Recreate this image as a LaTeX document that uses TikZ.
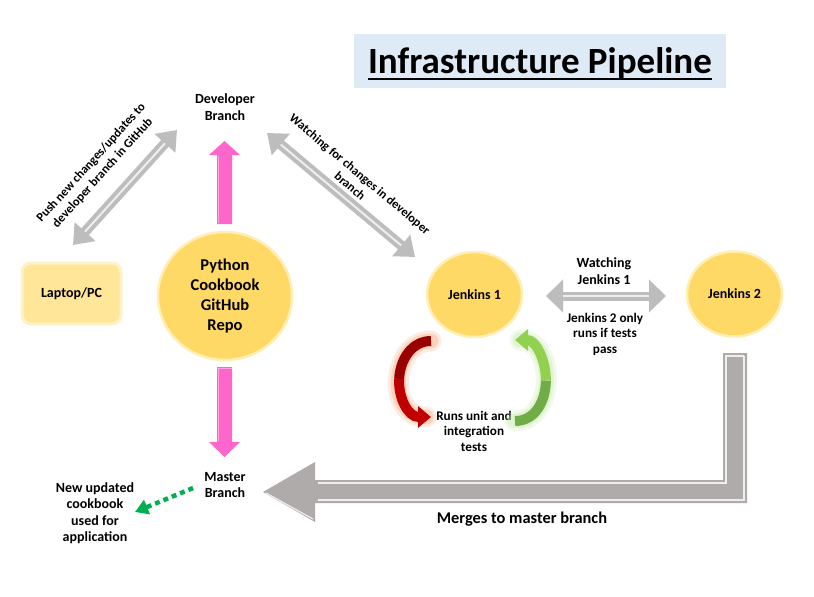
\documentclass[tikz,border=0pt]{standalone}
\usepackage{fontspec}
\setmainfont{Carlito}
\usetikzlibrary{arrows.meta,shapes.geometric,calc}
\definecolor{gold}{HTML}{FFD966}
\definecolor{goldrim}{HTML}{FFEFB5}
\definecolor{laptopfill}{HTML}{FFE699}
\definecolor{laptoprim}{HTML}{FFF2C8}
\definecolor{pinkarr}{HTML}{FF66CC}
\definecolor{pinklt}{HTML}{FFA3E0}
\definecolor{greyarr}{HTML}{AFABAB}
\definecolor{greylt}{HTML}{BDBDBD}
\definecolor{titlebg}{HTML}{DEEBF7}
\definecolor{redA}{HTML}{990000}
\definecolor{redB}{HTML}{C00000}
\definecolor{redglow}{HTML}{F8A878}
\definecolor{greenA}{HTML}{92D050}
\definecolor{greenB}{HTML}{70AD47}
\definecolor{greenglow}{HTML}{C5E8A8}
\definecolor{dotgreen}{HTML}{00B050}
\begin{document}
\begin{tikzpicture}[x=1pt,y=-1pt,
  lbl/.style={font=\bfseries\fontsize{14}{16.5}\selectfont, align=center, inner sep=0pt},
  tightlbl/.style={font=\bfseries\fontsize{13.2}{15.5}\selectfont, align=center, inner sep=0pt},
  rlbl/.style={font=\bfseries\fontsize{12.5}{15.5}\selectfont, align=center, inner sep=0pt},
  disk/.style={ellipse, fill=gold, draw=goldrim, line width=2.5pt, inner sep=0pt, align=center},
  dblarrow/.style={draw=greylt, line width=10pt, {Triangle[width=27pt,length=18pt]}-{Triangle[width=27pt,length=18pt]}},
  hdblarrow/.style={draw=greylt, line width=9pt, {Triangle[width=32pt,length=17pt]}-{Triangle[width=32pt,length=17pt]}},
  shine/.style={white, line width=2pt, opacity=.75},
  glowwide/.style={line width=21pt, opacity=.22, line cap=round},
  glownarrow/.style={line width=15pt, opacity=.35, line cap=round},
  ]
\useasboundingbox (0,0) rectangle (814,597);
\fill[white] (0,0) rectangle (814,597);

% title
\node[fill=titlebg, minimum width=372pt, minimum height=54pt, inner sep=0pt] (titlebox) at (540,61) {};
\node[font=\bfseries\fontsize{37}{44}\selectfont, anchor=base, inner sep=0pt] (titletext) at (540,73) {Infrastructure Pipeline};
\draw[line width=2pt] ([yshift=-6pt]titletext.base west) -- ([yshift=-6pt]titletext.base east);

% nodes
\node[lbl] (dev) at (225,107) {Developer\\Branch};
\node[lbl, fill=laptopfill, draw=laptoprim, line width=3pt, rounded corners=9pt, minimum width=99pt, minimum height=61pt] (laptop) at (71.5,293.5) {Laptop/PC};
\node[disk, minimum width=134pt, minimum height=128pt, font=\bfseries\fontsize{16.5}{20}\selectfont] (repo) at (225,296) {Python\\Cookbook\\GitHub\\Repo};
\node[disk, minimum width=95pt, minimum height=85pt, font=\bfseries\fontsize{14}{17}\selectfont] (j1) at (474.5,294.5) {Jenkins 1};
\node[disk, minimum width=95pt, minimum height=85pt, font=\bfseries\fontsize{14}{17}\selectfont] (j2) at (734.5,294) {Jenkins 2};
\node[lbl] (master) at (225,485) {Master\\Branch};
\node[lbl] (app) at (95,513) {New updated\\cookbook\\used for\\application};
\node[lbl] (watch) at (604,271) {Watching\\Jenkins 1};
\node[tightlbl] (only) at (605,334) {Jenkins 2 only\\runs if tests\\pass};
\node[tightlbl] (runs) at (474,431) {Runs unit and\\integration\\tests};
\node[font=\bfseries\fontsize{16.4}{20}\selectfont, inner sep=0pt] (merge) at (522,519) {Merges to master branch};
\node[rlbl, rotate=48] (pushlbl) at (97,168) {Push new changes/updates to\\developer branch in GitHub};
\node[rlbl, rotate=-40] (watchlbl) at (355,180) {Watching for changes in developer\\branch};

% diagonal double arrows
\coordinate (a1) at (73,245); \coordinate (a2) at (177,130);
\draw[dblarrow] (a1) -- (a2);
\draw[shine, shorten >=18pt, shorten <=18pt] (a1) -- (a2);
\coordinate (b1) at (267,133); \coordinate (b2) at (415,257);
\draw[dblarrow] (b1) -- (b2);
\draw[shine, shorten >=18pt, shorten <=18pt] (b1) -- (b2);
% horizontal double arrow
\coordinate (c1) at (546,296); \coordinate (c2) at (666,296);
\draw[hdblarrow] (c1) -- (c2);
\draw[shine, shorten >=17pt, shorten <=17pt] (c1) -- (c2);

% pink arrows
\fill[pinkarr] (217,224) -- (217,155) -- (209,155) -- (224.5,141) -- (240,155) -- (232,155) -- (232,224) -- cycle;
\draw[pinklt, line width=1.5pt] (218.5,223) -- (218.5,156);
\fill[pinkarr] (217,367) -- (232,367) -- (232,442) -- (240,442) -- (224.5,457) -- (209,442) -- (217,442) -- cycle;
\draw[pinklt, line width=1.5pt] (218.5,369) -- (218.5,441);
\draw[pinklt, line width=1pt] (217,368) -- (232,368);

% big grey L arrow
\fill[greyarr] (723,353) -- (747,353) -- (747,503) -- (315,503) -- (315,522) -- (263,492) -- (315,462) -- (315,480) -- (723,480) -- cycle;
\draw[white, line width=1.2pt, opacity=.8] (318,483) -- (726,483) -- (726,356) -- (744,356);
\draw[white, line width=1.2pt, opacity=.8] (744,356) -- (744,500) -- (318,500);
\draw[white, line width=1.2pt, opacity=.8] (266,493) -- (313,519);

% red loop arrow
\draw[redglow, glowwide] (431,341) .. controls (392,341) and (385,417) .. (426,417);
\draw[redglow, glownarrow] (431,341) .. controls (392,341) and (385,417) .. (426,417);
\draw[redA, line width=10pt] (431,341) .. controls (411.5,341) and (400,360) .. (399.125,379);
\draw[redB, line width=10pt, -{Triangle[width=21pt,length=13pt]}] (399.125,379) .. controls (398.25,398) and (408,417) .. (431,417);

% green loop arrow
\draw[greenglow, glowwide] (515,421) .. controls (556,421) and (556,340) .. (520,340);
\draw[greenglow, glownarrow] (515,421) .. controls (556,421) and (556,340) .. (520,340);
\draw[greenB, line width=10pt] (515,421) .. controls (535.5,421) and (545.75,400.75) .. (545.875,380.5);
\draw[greenA, line width=10pt, -{Triangle[width=21pt,length=13pt]}] (545.875,380.5) .. controls (546,360.25) and (536,340) .. (515,340);

% dotted green arrow
\coordinate (d1) at (193,488); \coordinate (d2) at (135,512);
\draw[dotgreen, line width=4.5pt, dash pattern=on 5pt off 4pt, -{Triangle[width=15pt,length=13pt]}] (d1) -- (d2);
\end{tikzpicture}
\end{document}
